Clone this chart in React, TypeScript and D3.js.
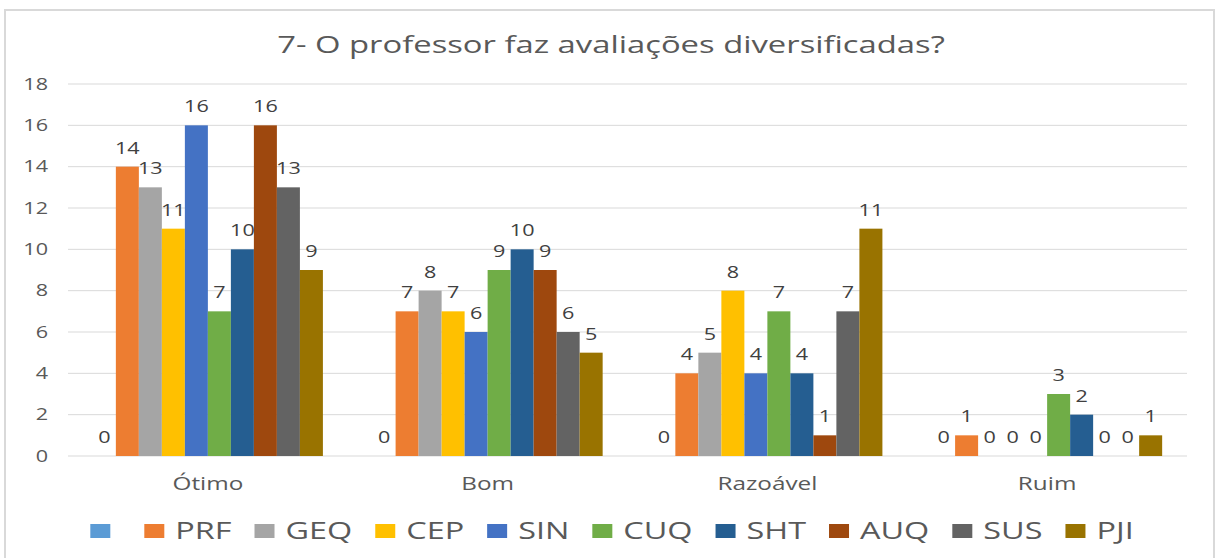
import React, { useEffect, useRef } from "react";
import * as d3 from "d3";

const title = "7- O professor faz avaliações diversificadas?";
const categories = ["Ótimo", "Bom", "Razoável", "Ruim"];
const seriesNames = ["", "PRF", "GEQ", "CEP", "SIN", "CUQ", "SHT", "AUQ", "SUS", "PJI"];
const seriesColors = ["#5B9BD5", "#ED7D31", "#A5A5A5", "#FFC000", "#4472C4", "#70AD47", "#255E91", "#9E480E", "#636363", "#997300"];
const valOtimo = [0, 14, 13, 11, 16, 7, 10, 16, 13, 9];
const valBom = [0, 7, 8, 7, 6, 9, 10, 9, 6, 5];
const valRazoavel = [0, 4, 5, 8, 4, 7, 4, 1, 7, 11];
const valRuim = [0, 1, 0, 0, 0, 3, 2, 0, 0, 1];
const yTicks = [0, 2, 4, 6, 8, 10, 12, 14, 16, 18];

const values = [valOtimo, valBom, valRazoavel, valRuim];
const W = 1216, H = 558;
const FONT = "'Open Sans', sans-serif";
const SX = 1.35;

export default function App() {
  const ref = useRef<SVGSVGElement>(null);
  useEffect(() => {
    const svg = d3.select(ref.current);
    svg.selectAll("*").remove();

    const stext = (g: any, x: number, y: number, txt: string, size: number, anchor: string, color: string, sx = SX) =>
      g.append("text")
        .attr("transform", `translate(${x},${y}) scale(${sx},1)`)
        .attr("text-anchor", anchor)
        .attr("font-family", FONT)
        .attr("font-size", size)
        .attr("fill", color)
        .text(txt);

    svg.append("rect").attr("x", 0).attr("y", 0).attr("width", W).attr("height", H).attr("fill", "#fff");
    svg.append("rect").attr("x", 5).attr("y", 10).attr("width", 1209).attr("height", 560)
      .attr("fill", "#fff").attr("stroke", "#d9d9d9").attr("stroke-width", 2);

    const t = stext(svg, 611, 53, title, 24, "middle", "#595959", 1);
    const tw = (t.node() as SVGTextElement).getComputedTextLength();
    t.attr("transform", `translate(611,53) scale(${668 / tw},1)`);

    const x0 = d3.scaleBand<string>().domain(categories).range([68, 1187]).padding(0);
    const x1 = d3.scaleBand<string>().domain(seriesNames.map((_, i) => String(i)))
      .range([0, x0.bandwidth()]).paddingInner(0).paddingOuter(1.08);
    const y = d3.scaleLinear().domain([0, 18]).range([456, 84]);

    const grid = svg.append("g");
    yTicks.forEach(tk => {
      grid.append("line").attr("x1", 68).attr("x2", 1187).attr("y1", y(tk)).attr("y2", y(tk))
        .attr("stroke", "#d9d9d9").attr("stroke-width", 1);
      stext(svg, 48, y(tk) + 5.5, String(tk), 16, "end", "#595959");
    });

    categories.forEach((c, ci) => {
      const g = svg.append("g").attr("transform", `translate(${x0(c)},0)`);
      values[ci].forEach((v, si) => {
        const bx = x1(String(si))!;
        g.append("rect").attr("x", bx).attr("y", y(v)).attr("width", x1.bandwidth())
          .attr("height", y(0) - y(v)).attr("fill", seriesColors[si]);
      });
      values[ci].forEach((v, si) => {
        const bx = x1(String(si))! + x1.bandwidth() / 2;
        stext(g, bx, y(v) - 13, String(v), 16, "middle", "#404040");
      });
      stext(svg, x0(c)! + x0.bandwidth() / 2, 490, c, 18, "middle", "#595959");
    });

    // legend
    const lg = svg.append("g");
    const items: { sw: any; tx: any; w: number }[] = [];
    seriesNames.forEach((n, i) => {
      const sw = lg.append("rect").attr("width", 20).attr("height", 14).attr("y", 524).attr("fill", seriesColors[i]);
      const tx = stext(lg, 0, 539, n, 24, "start", "#595959");
      const w = n ? (tx.node() as SVGTextElement).getComputedTextLength() * SX : 0;
      items.push({ sw, tx, w });
    });
    const gapText = 11, gapItem = 23;
    const total = items.reduce((a, it) => a + 20 + gapText + it.w, 0) + gapItem * (items.length - 1);
    let cx = 612 - total / 2;
    items.forEach(it => {
      it.sw.attr("x", cx);
      it.tx.attr("transform", `translate(${cx + 20 + gapText},539) scale(${SX},1)`);
      cx += 20 + gapText + it.w + gapItem;
    });
  }, []);
  return (
    <svg ref={ref} width={W} height={H} style={{ position: "absolute", left: 0, top: 0 }} />
  );
}
